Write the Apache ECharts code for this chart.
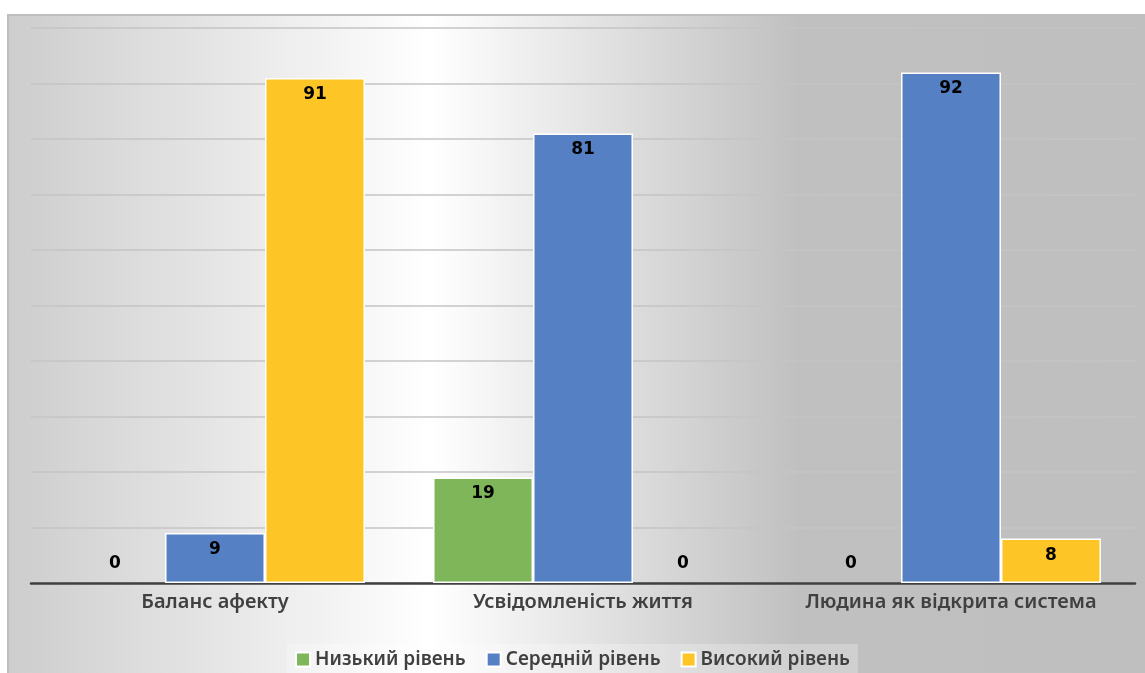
<!DOCTYPE html>
<html>
<head>
<meta charset="utf-8">
<script src="https://cdn.jsdelivr.net/npm/echarts@6/dist/echarts.min.js"></script>
<style>html,body{margin:0;padding:0;background:#fff;}#c{width:1145px;height:673px;}</style>
</head>
<body>
<div id="c"></div>
<script>
var categories = ['Баланс афекту', 'Усвідомленість життя', 'Людина як відкрита система'];
var seriesNames = ['Низький рівень', 'Середній рівень', 'Високий рівень'];
var lowValues = [0, 19, 0];
var midValues = [9, 81, 92];
var highValues = [91, 0, 8];
var colors = ['#7fb65a', '#5580c4', '#fdc525'];

function buildData(vals) {
  return vals.map(function (v) {
    if (v === 0) return { value: v, itemStyle: { borderWidth: 0 }, label: { position: 'top', distance: 11 } };
    return v;
  });
}

var allValues = [lowValues, midValues, highValues];
var series = allValues.map(function (vals, i) {
  return {
    name: seriesNames[i],
    type: 'bar',
    data: buildData(vals),
    barGap: '0%',
    barCategoryGap: '18.5%',
    itemStyle: { color: colors[i], borderColor: '#ffffff', borderWidth: 1.5 },
    label: {
      show: true,
      position: 'insideTop',
      distance: 8,
      color: '#000',
      fontFamily: 'DejaVu Sans',
      fontWeight: 'bold',
      fontSize: 17
    }
  };
});

var chart = echarts.init(document.getElementById('c'), null, { renderer: 'canvas' });
chart.setOption({
  animation: false,
  color: colors,
  graphic: [
    {
      type: 'rect', z: -10, silent: true,
      shape: { x: 8, y: 15, width: 1145, height: 670 },
      style: {
        fill: new echarts.graphic.LinearGradient(0, 0, 1, 0, [
          { offset: 0, color: '#cdcdcd' },
          { offset: 0.37, color: '#ffffff' },
          { offset: 0.69, color: '#c0c0c0' },
          { offset: 1, color: '#bfbfbf' }
        ]),
        stroke: '#bdbdbd', lineWidth: 2
      }
    }
  ],
  grid: { left: 31, right: 10, top: 28, bottom: 90 },
  xAxis: {
    type: 'category',
    data: categories,
    axisLine: { lineStyle: { color: '#404040', width: 2.5 } },
    axisTick: { show: false },
    axisLabel: {
      interval: 0, hideOverlap: false,
      color: '#404040', fontFamily: 'Noto Sans', fontWeight: 600, fontSize: 20, margin: 9
    }
  },
  yAxis: {
    type: 'value', min: 0, max: 100, interval: 10,
    axisLabel: { show: false },
    axisLine: { show: false },
    axisTick: { show: false },
    splitLine: { lineStyle: { color: '#c4c4c4', width: 1.5 } }
  },
  legend: {
    bottom: 0,
    left: 'center',
    itemWidth: 14, itemHeight: 14, itemGap: 20,
    icon: 'rect',
    padding: [6, 8, 4, 8],
    backgroundColor: 'rgba(255,255,255,0.25)',
    textStyle: { color: '#404040', fontFamily: 'Noto Sans', fontWeight: 600, fontSize: 19 }
  },
  series: series
});
</script>
</body>
</html>
